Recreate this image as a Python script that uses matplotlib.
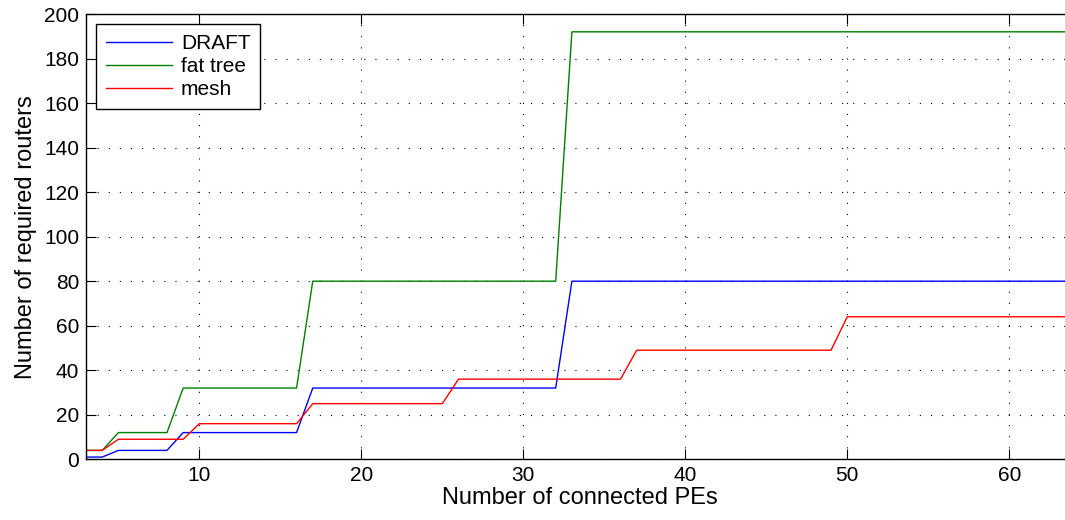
import matplotlib
matplotlib.use('Agg')
import matplotlib.pyplot as plt
import numpy as np

plt.rcParams['font.family'] = ['Liberation Sans', 'DejaVu Sans']

# number of connected PEs (3..64)
pes = list(range(3, 65))

# required routers per topology, one value per PE count
draft = [1, 1] + [4] * 4 + [12] * 8 + [32] * 16 + [80] * 32
fat_tree = [4, 4] + [12] * 4 + [32] * 8 + [80] * 16 + [192] * 32
mesh = [4, 4] + [9] * 5 + [16] * 7 + [25] * 9 + [36] * 11 + [49] * 13 + [64] * 15

series = [("DRAFT", draft, (0, 0, 1)),
          ("fat tree", fat_tree, (0, 0.5, 0)),
          ("mesh", mesh, (1, 0, 0))]

fig = plt.figure(figsize=(10.65, 5.2), dpi=100)
ax = fig.add_axes([86 / 1065, 60.7 / 520, 988 / 1065, 445.3 / 520])

for name, vals, col in series:
    ax.plot(pes, vals, color=col, lw=1.0, label=name)

ax.set_xlim(3, 64)
ax.set_ylim(0, 200)
ax.set_xticks(np.arange(10, 61, 10))
ax.set_yticks(np.arange(0, 201, 20))
ax.grid(True, color='black', linestyle=(0, (1, 9)), linewidth=0.8)
ax.tick_params(direction='in', length=7, width=0.8, top=True, right=True,
               labelsize=15, pad=5)
for sp in ax.spines.values():
    sp.set_linewidth(1.0)

ax.set_xlabel("Number of connected PEs", fontsize=17, labelpad=1)
ax.set_ylabel("Number of required routers", fontsize=17, labelpad=5)

leg = ax.legend(loc='upper left', fontsize=15, fancybox=False,
                edgecolor='black', framealpha=1, handlelength=3.2,
                borderaxespad=0.5, labelspacing=0.2, handletextpad=0.4,
                borderpad=0.45)
leg.get_frame().set_linewidth(1.0)

fig.savefig("out.png", dpi=100)
